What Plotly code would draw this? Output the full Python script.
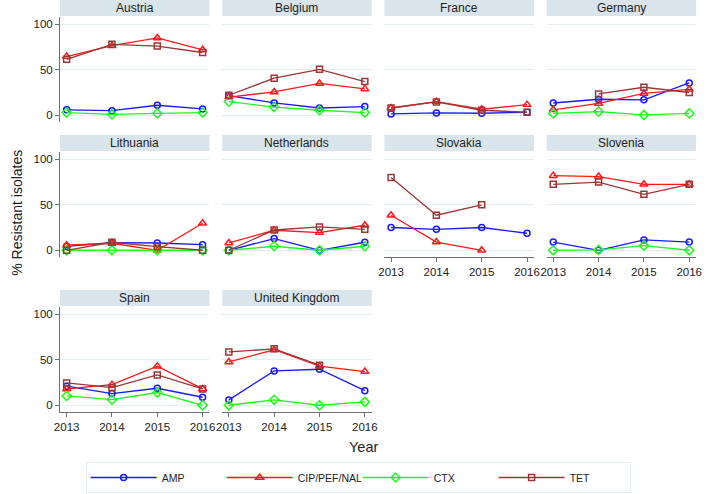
import plotly.graph_objs as go

W, H = 709, 494

YEARS = [2013, 2014, 2015, 2016]
COUNTRIES = [
    "Austria", "Belgium", "France", "Germany",
    "Lithuania", "Netherlands", "Slovakia", "Slovenia",
    "Spain", "United Kingdom",
]
DRUGS = ["AMP", "CIP/PEF/NAL", "CTX", "TET"]

# % resistant isolates per country, one list per drug (None = not reported)
AMP = {
    "Austria": [6, 5, 11, 7],
    "Belgium": [21.6, 13.5, 8, 9.5],
    "France": [1.5, 2.6, 2.2, 3.3],
    "Germany": [13.5, 17.6, 17, 35.5],
    "Lithuania": [4.4, 8.4, 8, 6.2],
    "Netherlands": [0, 12.8, 0, 8.8],
    "Slovakia": [25, 23, 25, 18.7],
    "Slovenia": [9, 0, 11.4, 9],
    "Spain": [21, 12.8, 18.7, 8.8],
    "United Kingdom": [5.9, 37.7, 39.6, 16],
}
CIP = {
    "Austria": [64.5, 76.5, 85, 72],
    "Belgium": [20, 25.6, 35, 29],
    "France": [8, 15, 6.6, 11.7],
    "Germany": [6, 13, 24, 28.5],
    "Lithuania": [5.5, 7.7, 0, 29.7],
    "Netherlands": [8, 22, 19.4, 27.5],
    "Slovakia": [38.5, 9, 0, None],
    "Slovenia": [82, 81, 72.5, 72.5],
    "Spain": [18, 22.7, 43, 18],
    "United Kingdom": [47.6, 61, 43, 37],
}
CTX = {
    "Austria": [3, 1, 2, 3],
    "Belgium": [15, 9, 5.5, 3],
    "France": [None, None, None, None],
    "Germany": [2, 4, 0.4, 2],
    "Lithuania": [0, 0, 0, 0],
    "Netherlands": [0, 4.4, 0, 4.4],
    "Slovakia": [None, None, None, None],
    "Slovenia": [0, 0.4, 5, 0],
    "Spain": [10.3, 6.2, 14, 0],
    "United Kingdom": [0, 6, 0, 3.7],
}
TET = {
    "Austria": [61.5, 78, 76, 69],
    "Belgium": [22, 40.7, 50.5, 37],
    "France": [8, 14.6, 5.5, 3.3],
    "Germany": [None, 23.4, 30.8, 25],
    "Lithuania": [0, 8.8, 4, 0],
    "Netherlands": [0, 22.3, 25.6, 23],
    "Slovakia": [80, 38.5, 50, None],
    "Slovenia": [72.5, 75, 61.5, 72.5],
    "Spain": [24.5, 19.4, 33.3, 18],
    "United Kingdom": [58.6, 62, 44, None],
}
SERIES = {"AMP": AMP, "CIP/PEF/NAL": CIP, "CTX": CTX, "TET": TET}

STYLE = {
    "AMP": ("rgb(25,25,255)", "circle-open", 6),
    "CIP/PEF/NAL": ("rgb(255,25,25)", "triangle-up-open", 7),
    "CTX": ("rgb(30,250,30)", "diamond-open", 7),
    "TET": ("rgb(155,55,55)", "square-open", 6),
}

FONT = "Liberation Sans, Arial, sans-serif"
STRIP_COLOR = "#d9e4eb"
GRID_COLOR = "#e4eef0"
AXIS_COLOR = "#707070"

COL_X0 = [55, 220, 385, 550]
PANEL_W = 152
ROW_TOP = [17, 152, 307]
PANEL_H = 105
STRIP_H = 16

# which panels carry the x axis labels
X_LABELLED = {"Slovakia", "Slovenia", "Spain", "United Kingdom"}


def px_x(v):
    return v / W


def px_y(v):
    return 1 - v / H


fig = go.Figure()
layout = dict(
    width=W,
    height=H,
    margin=dict(l=0, r=0, t=0, b=0),
    paper_bgcolor="white",
    plot_bgcolor="white",
    font=dict(family=FONT, color="#222222"),
    shapes=[],
    annotations=[],
)

for i, country in enumerate(COUNTRIES):
    row, col = divmod(i, 4)
    n = "" if i == 0 else str(i + 1)
    x0 = COL_X0[col]
    top = ROW_TOP[row]
    xa = dict(
        domain=[px_x(x0), px_x(x0 + PANEL_W)],
        range=[2012.855, 2016.152],
        anchor="y" + n,
        showgrid=False,
        zeroline=False,
        tickvals=YEARS,
        ticktext=[str(y) for y in YEARS],
        tickfont=dict(size=11.5, family=FONT, color="#222222"),
        fixedrange=True,
    )
    if country in X_LABELLED:
        xa.update(showline=True, linecolor=AXIS_COLOR, linewidth=1,
                  ticks="outside", ticklen=4, tickcolor=AXIS_COLOR,
                  showticklabels=True)
    else:
        xa.update(showline=False, ticks="", showticklabels=False)
    ya = dict(
        domain=[px_y(top + PANEL_H), px_y(top)],
        range=[-7.4, 108],
        anchor="x" + n,
        tickvals=[0, 50, 100],
        showgrid=True,
        gridcolor=GRID_COLOR,
        gridwidth=1,
        zeroline=False,
        tickfont=dict(size=11.5, family=FONT, color="#222222"),
        fixedrange=True,
    )
    if col == 0:
        ya.update(showline=True, linecolor=AXIS_COLOR, linewidth=1,
                  ticks="outside", ticklen=4, tickcolor=AXIS_COLOR,
                  showticklabels=True)
    else:
        ya.update(showline=False, ticks="", showticklabels=False)
    layout["xaxis" + n] = xa
    layout["yaxis" + n] = ya

    # strip header
    layout["shapes"].append(dict(
        type="rect", xref="paper", yref="paper", layer="below",
        x0=px_x(x0), x1=px_x(x0 + PANEL_W),
        y0=px_y(top - 1), y1=px_y(top - 1 - STRIP_H),
        fillcolor=STRIP_COLOR, line=dict(width=0),
    ))
    layout["annotations"].append(dict(
        text=country, xref="paper", yref="paper", showarrow=False,
        x=px_x(x0 + PANEL_W / 2), y=px_y(top - 1 - STRIP_H / 2),
        xanchor="center", yanchor="middle",
        font=dict(size=12, family=FONT, color="#222222"),
    ))

    for drug in DRUGS:
        color, symbol, size = STYLE[drug]
        fig.add_trace(go.Scatter(
            x=YEARS,
            y=SERIES[drug][country],
            mode="lines+markers",
            name=drug,
            legendgroup=drug,
            showlegend=(i == 0),
            xaxis="x" + n,
            yaxis="y" + n,
            line=dict(color=color, width=1.3),
            marker=dict(symbol=symbol, size=size, color=color,
                        line=dict(color=color, width=1.5)),
            cliponaxis=False,
        ))

layout["annotations"].append(dict(
    text="% Resistant isolates", xref="paper", yref="paper", showarrow=False,
    x=px_x(11), y=px_y(213), textangle=-90,
    xanchor="center", yanchor="middle",
    font=dict(size=14, family=FONT, color="#222222"),
))
layout["annotations"].append(dict(
    text="Year", xref="paper", yref="paper", showarrow=False,
    x=px_x(364), y=px_y(447),
    xanchor="center", yanchor="middle",
    font=dict(size=14.5, family=FONT, color="#222222"),
))

layout["legend"] = dict(
    orientation="h",
    x=px_x(81), y=px_y(462),
    xanchor="left", yanchor="top",
    bordercolor="#e3ecee",
    borderwidth=1,
    bgcolor="white",
    font=dict(size=10.5, family=FONT, color="#222222"),
    itemwidth=66,
    entrywidth=55,
    tracegroupgap=0,
)

fig.update_layout(**layout)
# page margin off so the figure sits at the window's top-left corner
fig.write_html(
    "out.html",
    config={"displayModeBar": False},
    post_script="document.body.style.margin='0';document.body.style.overflow='hidden';",
)
